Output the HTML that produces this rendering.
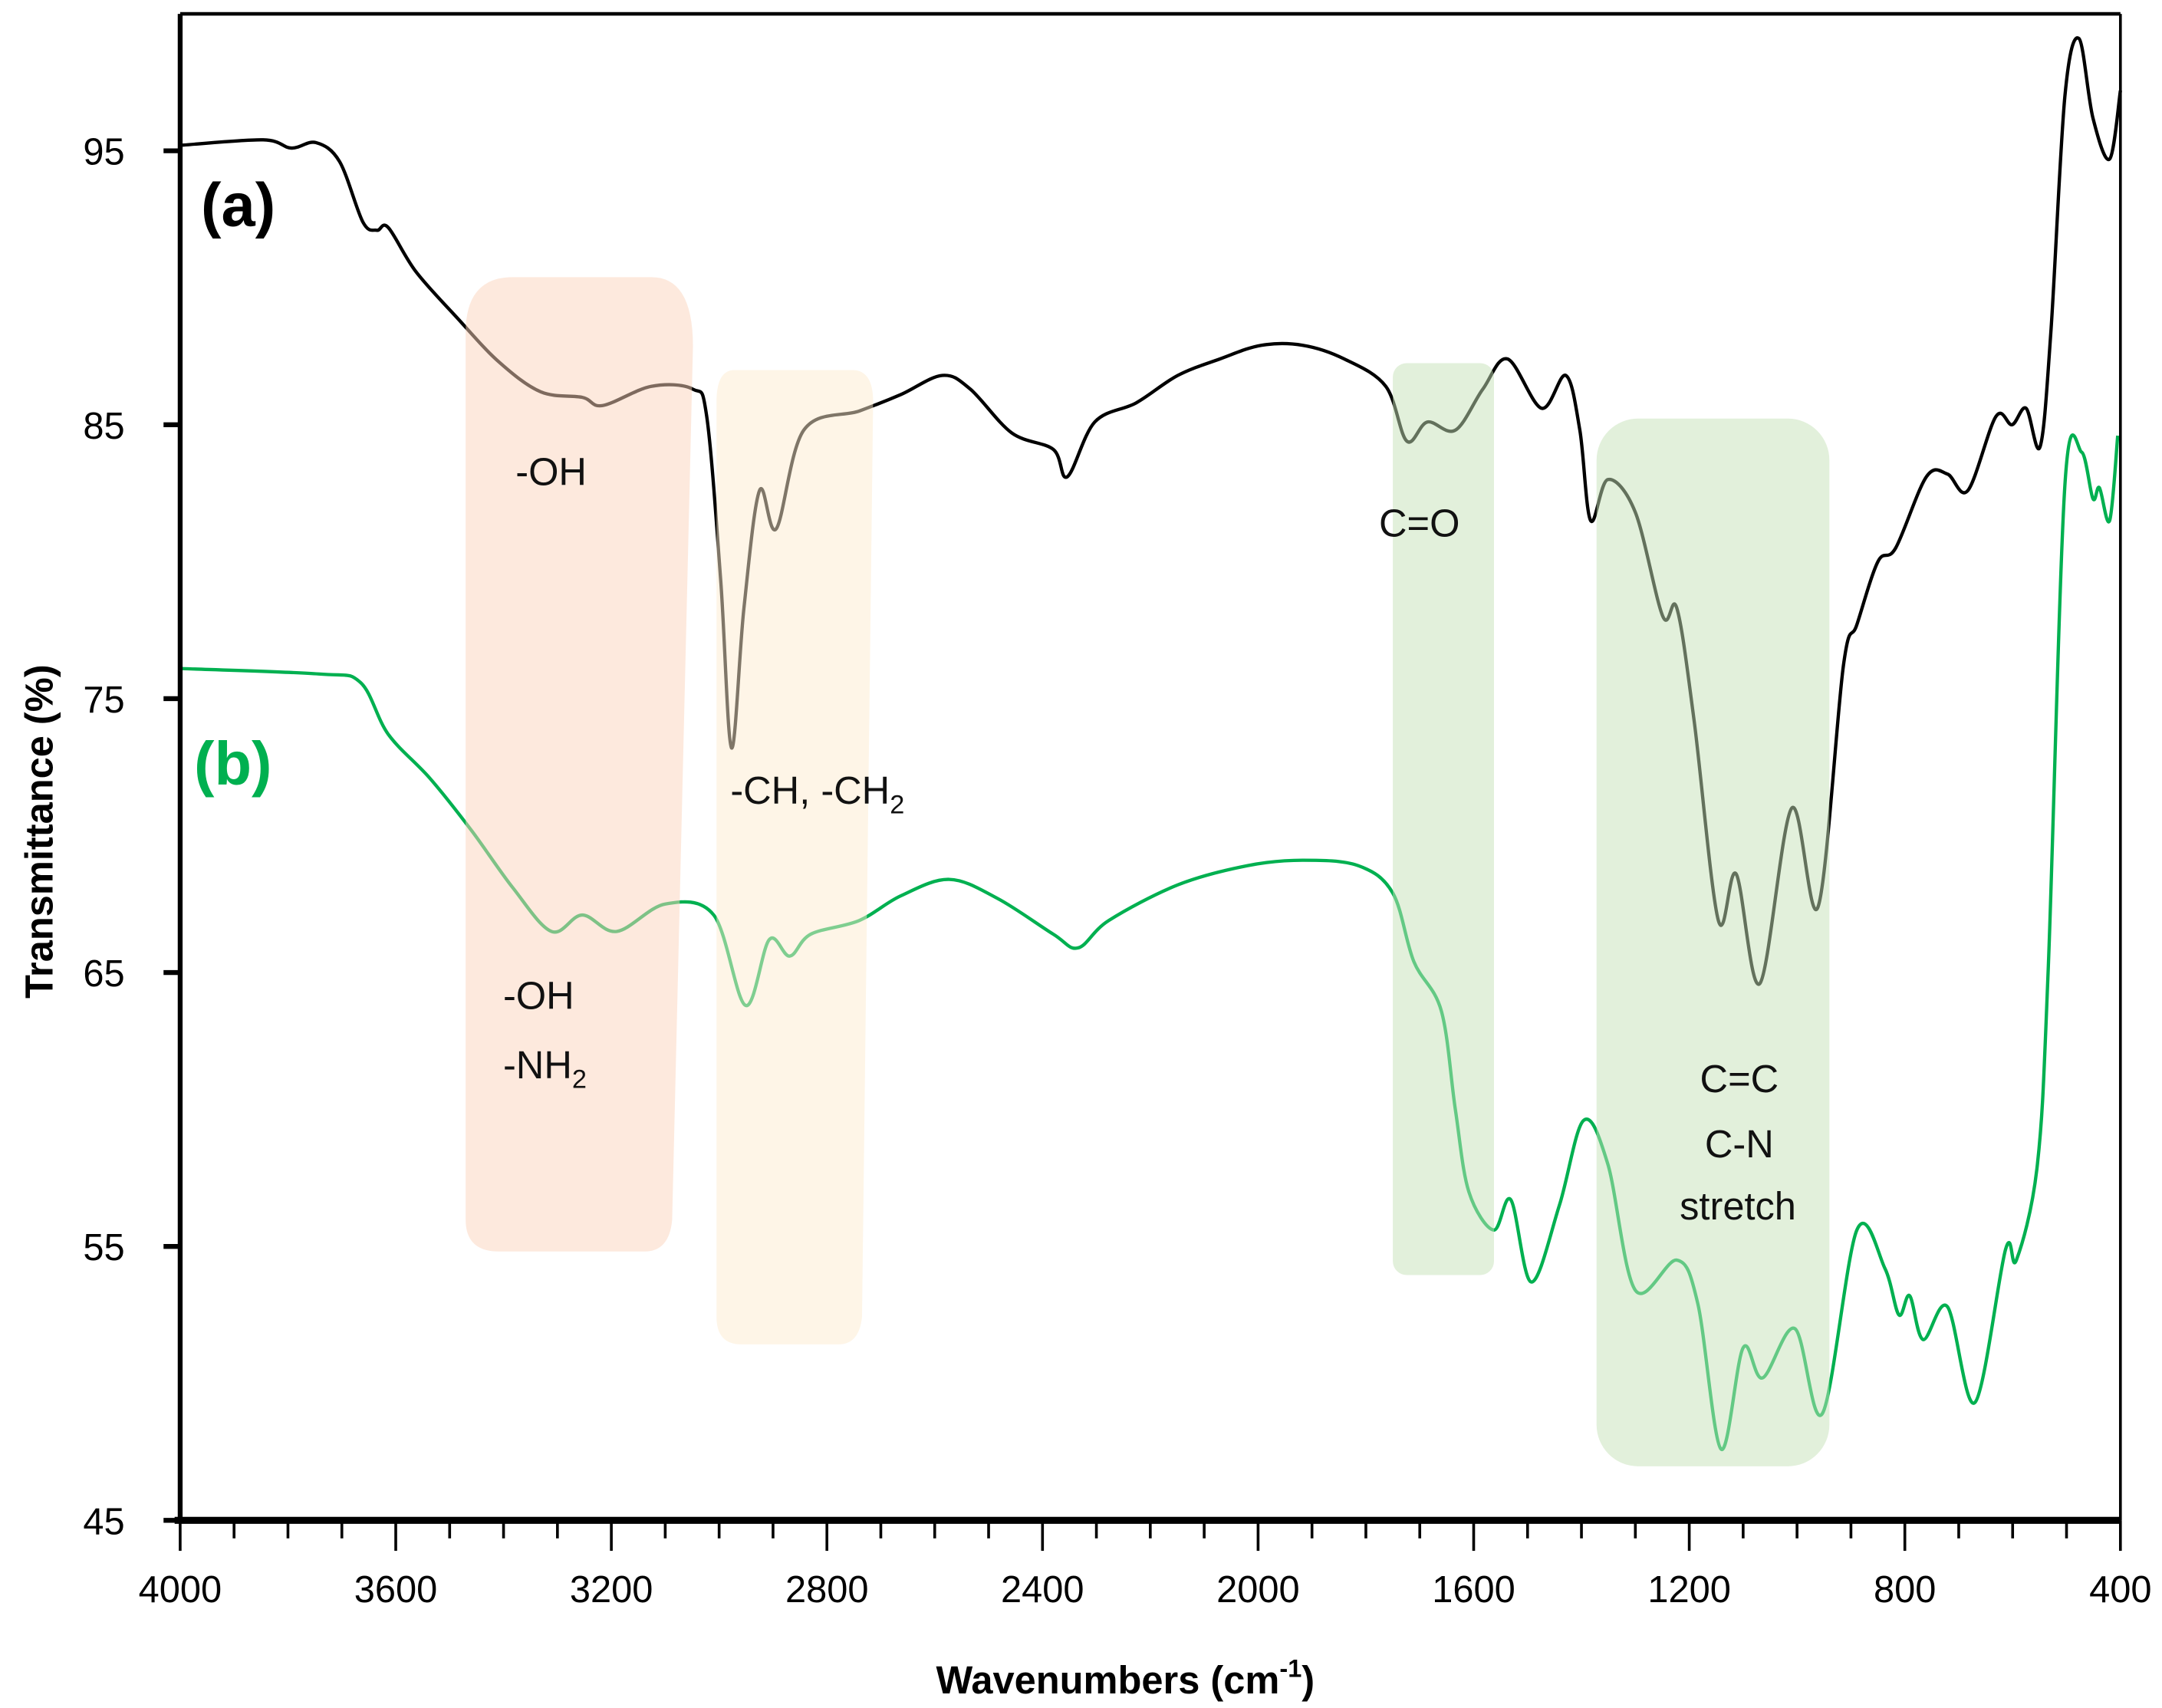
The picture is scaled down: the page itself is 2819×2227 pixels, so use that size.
<!DOCTYPE html>
<html><head><meta charset="utf-8"><style>
html,body{margin:0;padding:0;background:#fff;}
svg{display:block;}
text{font-family:"Liberation Sans","DejaVu Sans",sans-serif;}
</style></head><body>
<svg id="chart" width="2819" height="2227" viewBox="0 0 1560 1232.4" preserveAspectRatio="none" xmlns="http://www.w3.org/2000/svg">
<g id="curves"></g>
<g id="shades">
<path d="M370,200 H470 Q500,200 500,250 L485,880 Q483,903 465,903 H360 Q336,903 336,880 V240 Q336,200 370,200 Z" fill="#fbd3bb" opacity="0.5"/>
<path d="M530,267 H615 Q630,267 630,290 L622,950 Q620,970 605,970 H535 Q517,970 517,950 V290 Q517,267 530,267 Z" fill="#fdeccf" opacity="0.5"/>
<rect x="1005" y="262" width="73" height="658" rx="10" fill="#c6e2b8" opacity="0.5"/>
<rect x="1152" y="302" width="168" height="756" rx="30" fill="#c6e2b8" opacity="0.5"/>
</g>
<g id="axes"></g>
<g font-size="28" fill="#111">
<text x="145" y="163" font-size="44" font-weight="bold" fill="#000">(a)</text>
<text x="140" y="566" font-size="44" font-weight="bold" fill="#00b050">(b)</text>
<text x="372" y="350">-OH</text>
<text x="527" y="580">-CH, -CH<tspan font-size="19" dy="7">2</tspan></text>
<text x="995" y="387">C=O</text>
<text x="363" y="728">-OH</text>
<text x="363" y="778">-NH<tspan font-size="19" dy="7">2</tspan></text>
<text x="1255" y="788" text-anchor="middle">C=C</text>
<text x="1255" y="835" text-anchor="middle">C-N</text>
<text x="1254" y="880" text-anchor="middle">stretch</text>
</g>
<text transform="translate(38,600) rotate(-90)" text-anchor="middle" font-size="28" font-weight="bold">Transmittance (%)</text>
<text x="812" y="1222" text-anchor="middle" font-size="28" font-weight="bold">Wavenumbers (cm<tspan font-size="18" dy="-12">-1</tspan><tspan dy="12">)</tspan></text>
</svg>
<script>
const xTicks=[4000,3600,3200,2800,2400,2000,1600,1200,800,400];
const yTicks=[45,55,65,75,85,95];
const waveA=[4000,3846,3794,3748,3704,3661,3635,3614,3563,3486,3409,3331,3254,3216,3126,3049,3023,2997,2977,2954,2925,2894,2843,2740,2663,2586,2534,2457,2380,2354,2303,2226,2149,2071,1994,1917,1840,1763,1724,1686,1634,1583,1537,1474,1429,1403,1383,1351,1300,1249,1223,1191,1146,1113,1069,1010,961,914,889,850,817,760,721,683,631,601,575,549,529,503,477,451,420,400];
const transA=[95.2,95.4,95.1,95.3,94.6,92.4,92.1,92.2,90.6,88.9,87.3,86.2,86.0,85.7,86.4,86.3,85.3,79.3,73.2,78.3,82.6,81.2,84.8,85.5,86.1,86.8,86.3,84.7,84.1,83.1,85.1,85.8,86.8,87.4,87.9,87.9,87.4,86.4,84.4,85.1,84.8,86.3,87.4,85.6,86.8,84.8,81.5,83.0,81.8,78.0,78.3,74.2,66.9,68.6,64.6,71.0,67.4,76.2,77.7,80.0,80.5,83.1,83.2,82.6,85.3,85.0,85.6,84.2,88.4,97.0,99.1,96.2,94.7,97.2];
const waveB=[4000,3743,3666,3614,3537,3460,3383,3311,3254,3190,3100,3010,2951,2907,2869,2830,2740,2663,2573,2483,2380,2334,2277,2149,2020,1917,1814,1750,1711,1660,1634,1609,1563,1531,1493,1441,1396,1351,1300,1223,1184,1141,1100,1064,1004,953,889,837,811,791,766,721,670,613,593,554,534,503,472,451,439,420,405];
const transB=[76.1,75.9,75.6,73.7,72.1,70.2,68.1,66.5,67.1,66.5,67.5,67.1,63.8,66.2,65.6,66.4,66.9,67.8,68.4,67.7,66.4,65.9,66.9,68.2,68.9,69.1,68.9,67.9,65.4,63.6,60.0,57.0,55.6,56.7,53.7,56.5,59.6,58.0,53.4,54.5,52.9,47.6,51.3,50.2,52.0,48.9,55.6,54.2,52.5,53.2,51.6,52.8,49.3,54.9,54.5,58.0,65.1,82.8,84.0,82.3,82.7,81.5,84.6];
const L=130,R=1530,T=10,B=1097;
function sx(w){return L+(4000-w)*(R-L)/3600;}
function sy(v){return B-(v-45)*(B-T)/55;}
const NS="http://www.w3.org/2000/svg";
function smooth(xs,ys){
  const p=xs.map((w,i)=>[sx(w),sy(ys[i])]);
  let d="M"+p[0][0]+","+p[0][1];
  for(let i=0;i<p.length-1;i++){
    const p0=p[Math.max(0,i-1)],p1=p[i],p2=p[i+1],p3=p[Math.min(p.length-1,i+2)];
    const c1=[p1[0]+(p2[0]-p0[0])/6,p1[1]+(p2[1]-p0[1])/6];
    const c2=[p2[0]-(p3[0]-p1[0])/6,p2[1]-(p3[1]-p1[1])/6];
    d+=" C"+c1+" "+c2+" "+p2;
  }
  return d;
}
const cg=document.getElementById('curves');
const la=document.createElementNS(NS,'path');


la.setAttribute('d',smooth(waveA,transA));la.setAttribute('fill','none');la.setAttribute('stroke','#000');la.setAttribute('stroke-width','2.4');
cg.appendChild(la);
const lb=document.createElementNS(NS,'path');


lb.setAttribute('d',smooth(waveB,transB));lb.setAttribute('fill','none');lb.setAttribute('stroke','#00b050');lb.setAttribute('stroke-width','2.4');
cg.appendChild(lb);
const ag=document.getElementById('axes');
function line(x1,y1,x2,y2,w,name){const l=document.createElementNS(NS,'line');


l.setAttribute('x1',x1);l.setAttribute('y1',y1);l.setAttribute('x2',x2);l.setAttribute('y2',y2);l.setAttribute('stroke','#000');l.setAttribute('stroke-width',w);ag.appendChild(l);}
function txt(x,y,s,anchor,name){const t=document.createElementNS(NS,'text');


t.setAttribute('x',x);t.setAttribute('y',y);t.setAttribute('text-anchor',anchor);t.setAttribute('font-size','27');t.textContent=s;ag.appendChild(t);}
line(L,T,R,T,2.5,'plot-top-border');
line(R,T,R,B,2,'plot-right-border');
line(L,T,L,B,3.5,'y-axis-line');
line(L-4,B,R,B,5,'x-axis-line');
yTicks.forEach(v=>{line(L-12,sy(v),L,sy(v),3.5,'y-tick');txt(L-40,sy(v)+10,String(v),'end','y-tick-label');});
for(let w=4000;w>=400;w-=100){const major=(w%400===0);line(sx(w),B,sx(w),B+(major?22:13),2,'x-tick');}
xTicks.forEach(w=>txt(sx(w),B+59,String(w),'middle','x-tick-label'));
</script>
</body></html>
